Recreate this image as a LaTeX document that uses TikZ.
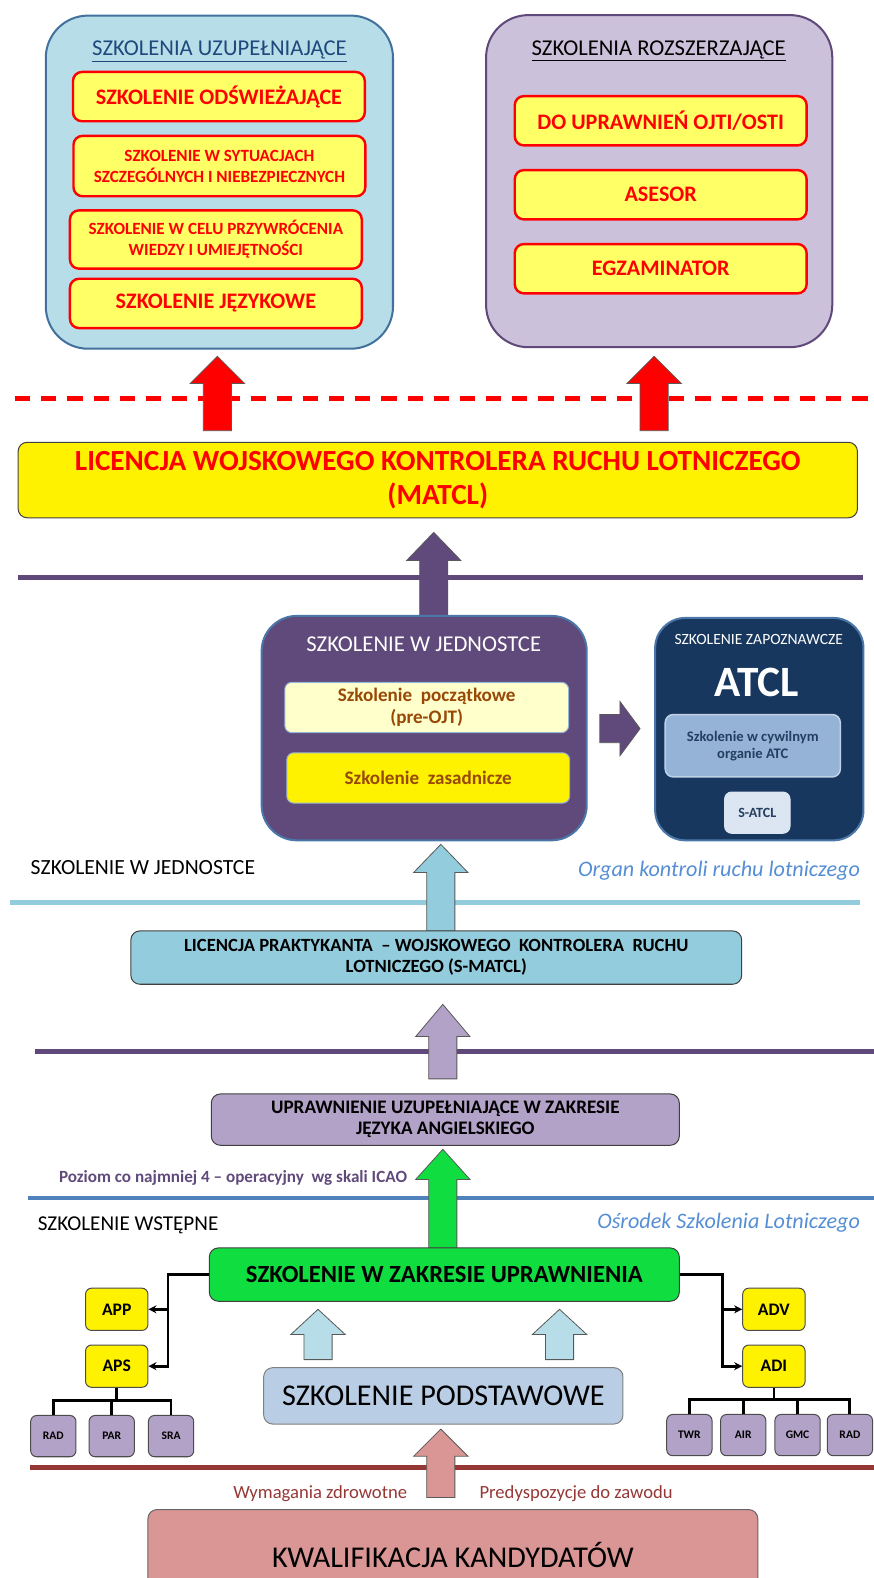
\documentclass[tikz,border=0pt]{standalone}
\usepackage{fontspec}
\setmainfont{Carlito}
\usetikzlibrary{arrows.meta}

\definecolor{uzupfill}{HTML}{B7DEE8}
\definecolor{uzupline}{HTML}{41719C}
\definecolor{titleblue}{HTML}{1F497D}
\definecolor{paleyellow}{HTML}{FFFF66}
\definecolor{rozfill}{HTML}{CCC1DA}
\definecolor{rozline}{HTML}{5F497A}
\definecolor{purp}{HTML}{604A7B}
\definecolor{unitline}{HTML}{4A76A8}
\definecolor{creamfill}{HTML}{FFFFCC}
\definecolor{brownish}{HTML}{984807}
\definecolor{steel}{HTML}{95B3D7}
\definecolor{navyfill}{HTML}{17375E}
\definecolor{navytext}{HTML}{243F60}
\definecolor{paleblue}{HTML}{DCE6F2}
\definecolor{aqua}{HTML}{93CDDD}
\definecolor{orgblue}{HTML}{558ED5}
\definecolor{lav}{HTML}{B3A2C7}
\definecolor{grass}{HTML}{10DD40}
\definecolor{lineblue}{HTML}{4F81BD}
\definecolor{podfill}{HTML}{B9CDE5}
\definecolor{iceblue}{HTML}{B7DEE8}
\definecolor{rose}{HTML}{D99694}
\definecolor{maroonish}{HTML}{953735}

\newcommand{\fsz}[2]{\fontsize{#1}{#2}\selectfont}
% block arrow pointing up: #1 foot, #2 length, #3 head length, #4 colour
\newcommand{\blockup}[4]{%
  \filldraw[fill=#4, draw=black!65, line width=0.8pt] #1 ++(-14,0) -- ++(0,{-(#2-#3)}) -- ++(-13,0)
    -- ++(27,{-#3}) -- ++(27,#3) -- ++(-13,0) -- ++(0,{#2-#3}) -- cycle;}

\tikzset{
  bigbox/.style={draw, line width=2pt, rounded corners=42pt},
  redbox/.style={draw=red, fill=paleyellow, line width=2.4pt, rounded corners=9pt, text=red, align=center,
    minimum width=290pt, inner sep=0pt, font=\fsz{22}{24}\bfseries},
  smallred/.style={redbox, font=\fsz{17}{21}\bfseries},
  band/.style={draw=black!75, line width=1pt, rounded corners=9pt, align=center, inner sep=0pt},
  sepline/.style={line width=4.5pt},
  tag/.style={draw=black!70, fill=yellow, line width=1pt, rounded corners=6pt, minimum width=62pt,
    minimum height=42pt, inner sep=0pt, font=\fsz{17.5}{20}\bfseries},
  leaf/.style={draw=black!70, fill=lav, line width=1pt, rounded corners=6pt, minimum width=45pt,
    minimum height=41pt, inner sep=0pt, font=\fsz{11.5}{14}\bfseries},
  tree/.style={line width=2.8pt},
  conn/.style={tree, -{Stealth[length=8pt,width=8pt]}}
}

\begin{document}
\begin{tikzpicture}[x=1pt,y=-1pt]
\useasboundingbox (0,0) rectangle (868,1568);

%upper boxes: further training
\node[bigbox, draw=uzupline, fill=uzupfill, minimum width=345pt, minimum height=331pt] (uzup) at (218,181) {};
\node[font=\fsz{22.5}{26}, text=titleblue] (uzuptitle) at (218,51) {\underline{SZKOLENIA UZUPEŁNIAJĄCE}};
\node[redbox, minimum height=49pt] (odsw) at (217.5,96) {SZKOLENIE ODŚWIEŻAJĄCE};
\node[smallred, minimum height=60pt] (sytu) at (218,165) {SZKOLENIE W SYTUACJACH\\SZCZEGÓLNYCH I NIEBEZPIECZNYCH};
\node[smallred, minimum height=58pt] (przyw) at (214.5,238) {SZKOLENIE W CELU PRZYWRÓCENIA\\WIEDZY I UMIEJĘTNOŚCI};
\node[redbox, minimum height=49pt] (jezyk) at (214.5,301.5) {SZKOLENIE JĘZYKOWE};

\node[bigbox, draw=rozline, fill=rozfill, minimum width=344pt, minimum height=330pt] (rozsz) at (655,180) {};
\node[font=\fsz{22.5}{26}] (rosztitle) at (654.5,50.5) {\underline{SZKOLENIA ROZSZERZAJĄCE}};
\node[redbox, minimum height=49pt] (ojti) at (656.5,120) {DO UPRAWNIEŃ OJTI/OSTI};
\node[redbox, minimum height=49pt] (asesor) at (656.5,193.5) {ASESOR};
\node[redbox, minimum height=49pt] (egzam) at (656.5,267) {EGZAMINATOR};

%licence
\draw[sepline, red, dash pattern=on 15pt off 11pt] (15,396) -- (868,396);
\node[band, fill=yellow, minimum width=834pt, minimum height=75pt, text=red, font=\fsz{29}{33}\bfseries] (matcl) at (435,477) {LICENCJA WOJSKOWEGO KONTROLERA RUCHU LOTNICZEGO\\(MATCL)};
\blockup{(216,428)}{74}{27}{red}
\blockup{(650,428)}{74}{27}{red}

%unit training
\draw[sepline, rozline] (18,574) -- (858,574);
\blockup{(431,612)}{83}{28}{purp}
\node[bigbox, draw=unitline, fill=purp, rounded corners=35pt, minimum width=323pt, minimum height=223pt] (jedn) at (421.5,723.5) {};
\node[text=white, font=\fsz{22.5}{26}] (jedntitle) at (421,640) {SZKOLENIE W JEDNOSTCE};
\node[band, draw=steel, fill=creamfill, text=brownish, minimum width=282pt, minimum height=50pt, rounded corners=7pt, font=\fsz{19}{22}\bfseries] (preojt) at (424,703) {Szkolenie \ początkowe\\(pre-OJT)};
\node[band, draw=steel, fill=yellow, text=brownish, minimum width=281pt, minimum height=50pt, rounded corners=7pt, font=\fsz{19}{22}\bfseries] (zasad) at (425.5,773) {Szkolenie \ zasadnicze};

\filldraw[fill=purp, draw=black!65, line width=0.8pt] (596,710) -- (616,710) -- (616,697) -- (636,724) -- (616,751) -- (616,738) -- (596,738) -- cycle;

\node[bigbox, draw=unitline, fill=navyfill, rounded corners=30pt, minimum width=207pt, minimum height=221pt] (atcl) at (754.5,724.5) {};
\node[text=white, font=\fsz{15.5}{18}] (zapozn) at (754,635) {SZKOLENIE ZAPOZNAWCZE};
\node[text=white, font=\fsz{43}{48}\bfseries] (atcltitle) at (752,678) {ATCL};
\node[band, draw=steel!60!white, fill=steel, text=navytext, line width=1.5pt, minimum width=174pt, minimum height=62pt, rounded corners=8pt, font=\fsz{14.5}{17}\bfseries] (cywil) at (748,741) {Szkolenie w cywilnym\\organie ATC};
\node[band, draw=paleblue, fill=paleblue, text=navytext, minimum width=65pt, minimum height=41pt, rounded corners=7pt, font=\fsz{14}{17}\bfseries] (satcl) at (752.5,807.5) {S-ATCL};

\node[anchor=west, font=\fsz{21.5}{25}] (jednlabel) at (27,862) {SZKOLENIE W JEDNOSTCE};
\node[anchor=east, text=orgblue, font=\fsz{22}{26}\itshape] (organ) at (858,865) {Organ kontroli ruchu lotniczego};

%trainee licence
\draw[sepline, aqua] (10,897) -- (855,897);
\blockup{(438,925)}{86}{28}{aqua}
\node[band, fill=aqua, minimum width=607pt, minimum height=53pt, font=\fsz{18.5}{20.5}\bfseries] (smatcl) at (433.5,951.5) {LICENCJA PRAKTYKANTA \ – WOJSKOWEGO \ KONTROLERA \ RUCHU\\LOTNICZEGO (S-MATCL)};

%english rating
\draw[sepline, rozline] (35,1045) -- (868,1045);
\blockup{(440,1072)}{74}{32}{lav}
\node[band, fill=lav, minimum width=465pt, minimum height=51pt, font=\fsz{19}{21}\bfseries] (angiel) at (442.5,1112.5) {UPRAWNIENIE UZUPEŁNIAJĄCE W ZAKRESIE\\JĘZYKA ANGIELSKIEGO};
\node[anchor=east, text=purp, font=\fsz{17}{20}\bfseries] (poziom) at (408,1170) {Poziom co najmniej 4 – operacyjny \ wg skali ICAO};

\draw[sepline, lineblue, line width=4pt] (28,1190) -- (868,1190);
\blockup{(440,1240)}{98}{30}{grass}
\node[anchor=west, font=\fsz{21}{25}] (wstep) at (34,1218) {SZKOLENIE WSTĘPNE};
\node[anchor=east, text=orgblue, font=\fsz{22}{26}\itshape] (osrodek) at (858,1215) {Ośrodek Szkolenia Lotniczego};

%initial training
\node[band, fill=grass, minimum width=467pt, minimum height=53pt, font=\fsz{24.5}{28}\bfseries] (zakres) at (441.5,1266.5) {SZKOLENIE W ZAKRESIE UPRAWNIENIA};
\node[tag] (app) at (116,1301) {APP};
\node[tag] (aps) at (116,1357.5) {APS};
\node[tag] (adv) at (769,1301) {ADV};
\node[tag] (adi) at (769,1357.5) {ADI};
\coordinate (lsplit) at (167,1266.5);
\coordinate (rsplit) at (718,1266.5);
\draw[conn] (zakres.west) -- (lsplit) |- (aps.east);
\draw[conn] (lsplit |- app.east) -- (app.east);
\draw[conn] (zakres.east) -- (rsplit) |- (adi.west);
\draw[conn] (rsplit |- adv.west) -- (adv.west);

\node[leaf] (rad) at (53,1427) {RAD};
\node[leaf] (par) at (111,1427) {PAR};
\node[leaf] (sra) at (170,1427) {SRA};
\coordinate (lbar) at (116,1392);
\draw[tree] (aps.south) -- (lbar);
\draw[tree] (rad.north) |- (lbar) -| (sra.north);
\draw[tree] (par.north) -- (par.north |- lbar);

\node[leaf] (twr) at (685,1426) {TWR};
\node[leaf] (air) at (738.5,1426) {AIR};
\node[leaf] (gmc) at (792.5,1426) {GMC};
\node[leaf] (radr) at (844.5,1426) {RAD};
\coordinate (rbar) at (769,1391);
\draw[tree] (adi.south) -- (rbar);
\draw[tree] (twr.north) |- (rbar) -| (radr.north);
\draw[tree] (air.north) -- (air.north |- rbar);
\draw[tree] (gmc.north) -- (gmc.north |- rbar);

%basic training
\node[band, draw=black!50, fill=podfill, minimum width=357pt, minimum height=56pt, font=\fsz{30}{34}] (podst) at (440.5,1387) {SZKOLENIE PODSTAWOWE};
\blockup{(316,1351)}{50}{25}{iceblue}
\blockup{(556,1351)}{50}{25}{iceblue}

%candidates
\draw[sepline, maroonish] (30,1458) -- (868,1458);
\blockup{(438,1488)}{68}{27}{rose}
\node[anchor=east, text=maroonish, font=\fsz{18.5}{21}] (zdrow) at (408,1484) {Wymagania zdrowotne};
\node[anchor=west, text=maroonish, font=\fsz{18.5}{21}] (predys) at (473,1484) {Predyspozycje do zawodu};
\node[band, draw=black!60, fill=rose, minimum width=606pt, minimum height=90pt, font=\fsz{30}{34}] (kwal) at (450,1545) {KWALIFIKACJA KANDYDATÓW};
\end{tikzpicture}
\end{document}
